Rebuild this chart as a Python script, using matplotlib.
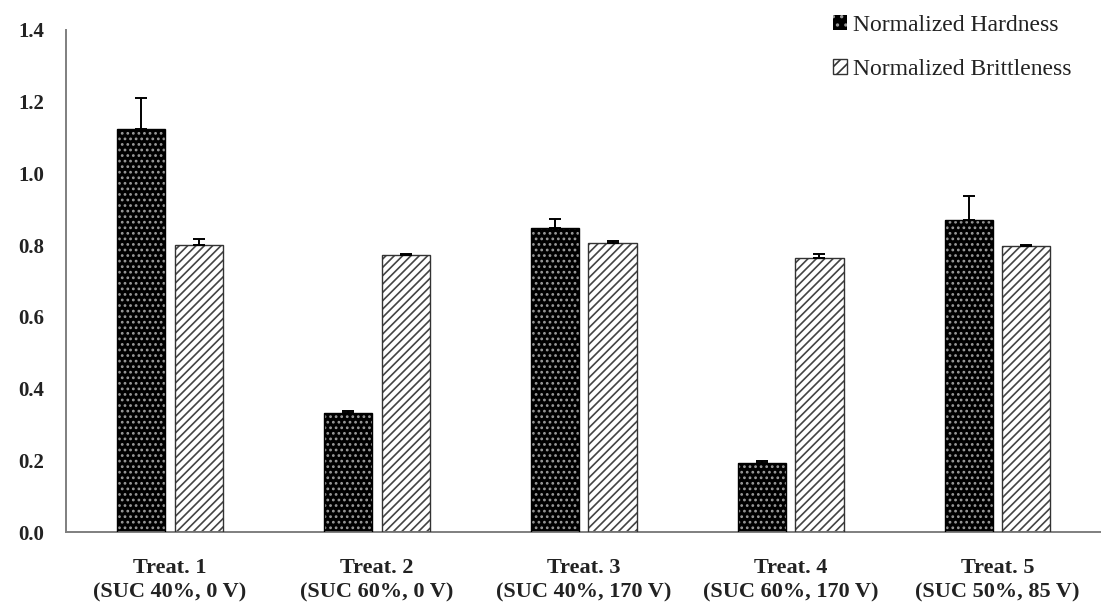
import matplotlib

matplotlib.use("Agg")
import matplotlib.pyplot as plt
import numpy as np
from matplotlib.patches import Patch

# values
treatments = ["Treat. 1", "Treat. 2", "Treat. 3", "Treat. 4", "Treat. 5"]
conditions = ["(SUC 40%, 0 V)", "(SUC 60%, 0 V)", "(SUC 40%, 170 V)", "(SUC 60%, 170 V)", "(SUC 50%, 85 V)"]
hardness = [1.124, 0.333, 0.848, 0.192, 0.870]
hardness_err = [0.087, 0.004, 0.025, 0.005, 0.067]
brittleness = [0.800, 0.772, 0.806, 0.764, 0.798]
brittleness_err = [0.016, 0.003, 0.005, 0.010, 0.002]
y_ticks = [0.0, 0.2, 0.4, 0.6, 0.8, 1.0, 1.2, 1.4]

plt.rcParams["font.family"] = ["Liberation Serif", "DejaVu Serif"]
plt.rcParams["hatch.linewidth"] = 1.2

fig = plt.figure(figsize=(11.01, 6.09), dpi=100)
ax = fig.add_axes([0.06, 0.1264, 0.94, 0.8246])

x = np.arange(len(treatments))
width = 0.232
offset = 0.14
text_color = "#222222"

# hardness: black bars with grey dots
ax.bar(x - offset, hardness, width, color="black", edgecolor="#9a9a9a", linewidth=0, hatch="...", zorder=2)
ax.bar(x - offset, hardness, width, color="none", edgecolor="black", linewidth=1.0, zorder=3)
ax.errorbar(x - offset, hardness, yerr=[np.zeros(len(hardness)), hardness_err], fmt="none",
            ecolor="black", elinewidth=1.4, capsize=4.6, capthick=1.4, zorder=4)

# brittleness: white bars with diagonal hatching
ax.bar(x + offset, brittleness, width, color="white", edgecolor="#444444", linewidth=0, hatch="////", zorder=2)
ax.bar(x + offset, brittleness, width, color="none", edgecolor="#333333", linewidth=1.0, zorder=3)
ax.errorbar(x + offset, brittleness, yerr=[np.zeros(len(brittleness)), brittleness_err], fmt="none",
            ecolor="black", elinewidth=1.4, capsize=4.6, capthick=1.4, zorder=4)

ax.set_xlim(-0.5, len(treatments) - 0.5)
ax.set_ylim(0, 1.4)
ax.set_yticks(y_ticks)
ax.set_yticklabels([f"{v:.1f}" for v in y_ticks], fontsize=15, fontweight="bold", color=text_color)
ax.set_xticks(x)
ax.set_xticklabels([f"{t}\n{c}" for t, c in zip(treatments, conditions)],
                   fontsize=16, fontweight="bold", color=text_color, linespacing=1.3)
ax.tick_params(axis="both", length=0)
ax.tick_params(axis="y", pad=16)
ax.tick_params(axis="x", pad=19)

for side in ["top", "right"]:
    ax.spines[side].set_visible(False)
for side in ["left", "bottom"]:
    ax.spines[side].set_color("#7f7f7f")
    ax.spines[side].set_linewidth(1.4)

handles = [
    Patch(facecolor="black", edgecolor="#9a9a9a", hatch="..", linewidth=0),
    Patch(facecolor="white", edgecolor="#333333", hatch="///", linewidth=1.0),
]
fig.legend(handles, ["Normalized Hardness", "Normalized Brittleness"],
           loc="upper left", bbox_to_anchor=(0.737, 1.01), frameon=False,
           fontsize=17, labelspacing=0.95, handlelength=0.6, handleheight=0.6,
           handletextpad=0.25, labelcolor=text_color)

fig.savefig("out.png", dpi=100)
